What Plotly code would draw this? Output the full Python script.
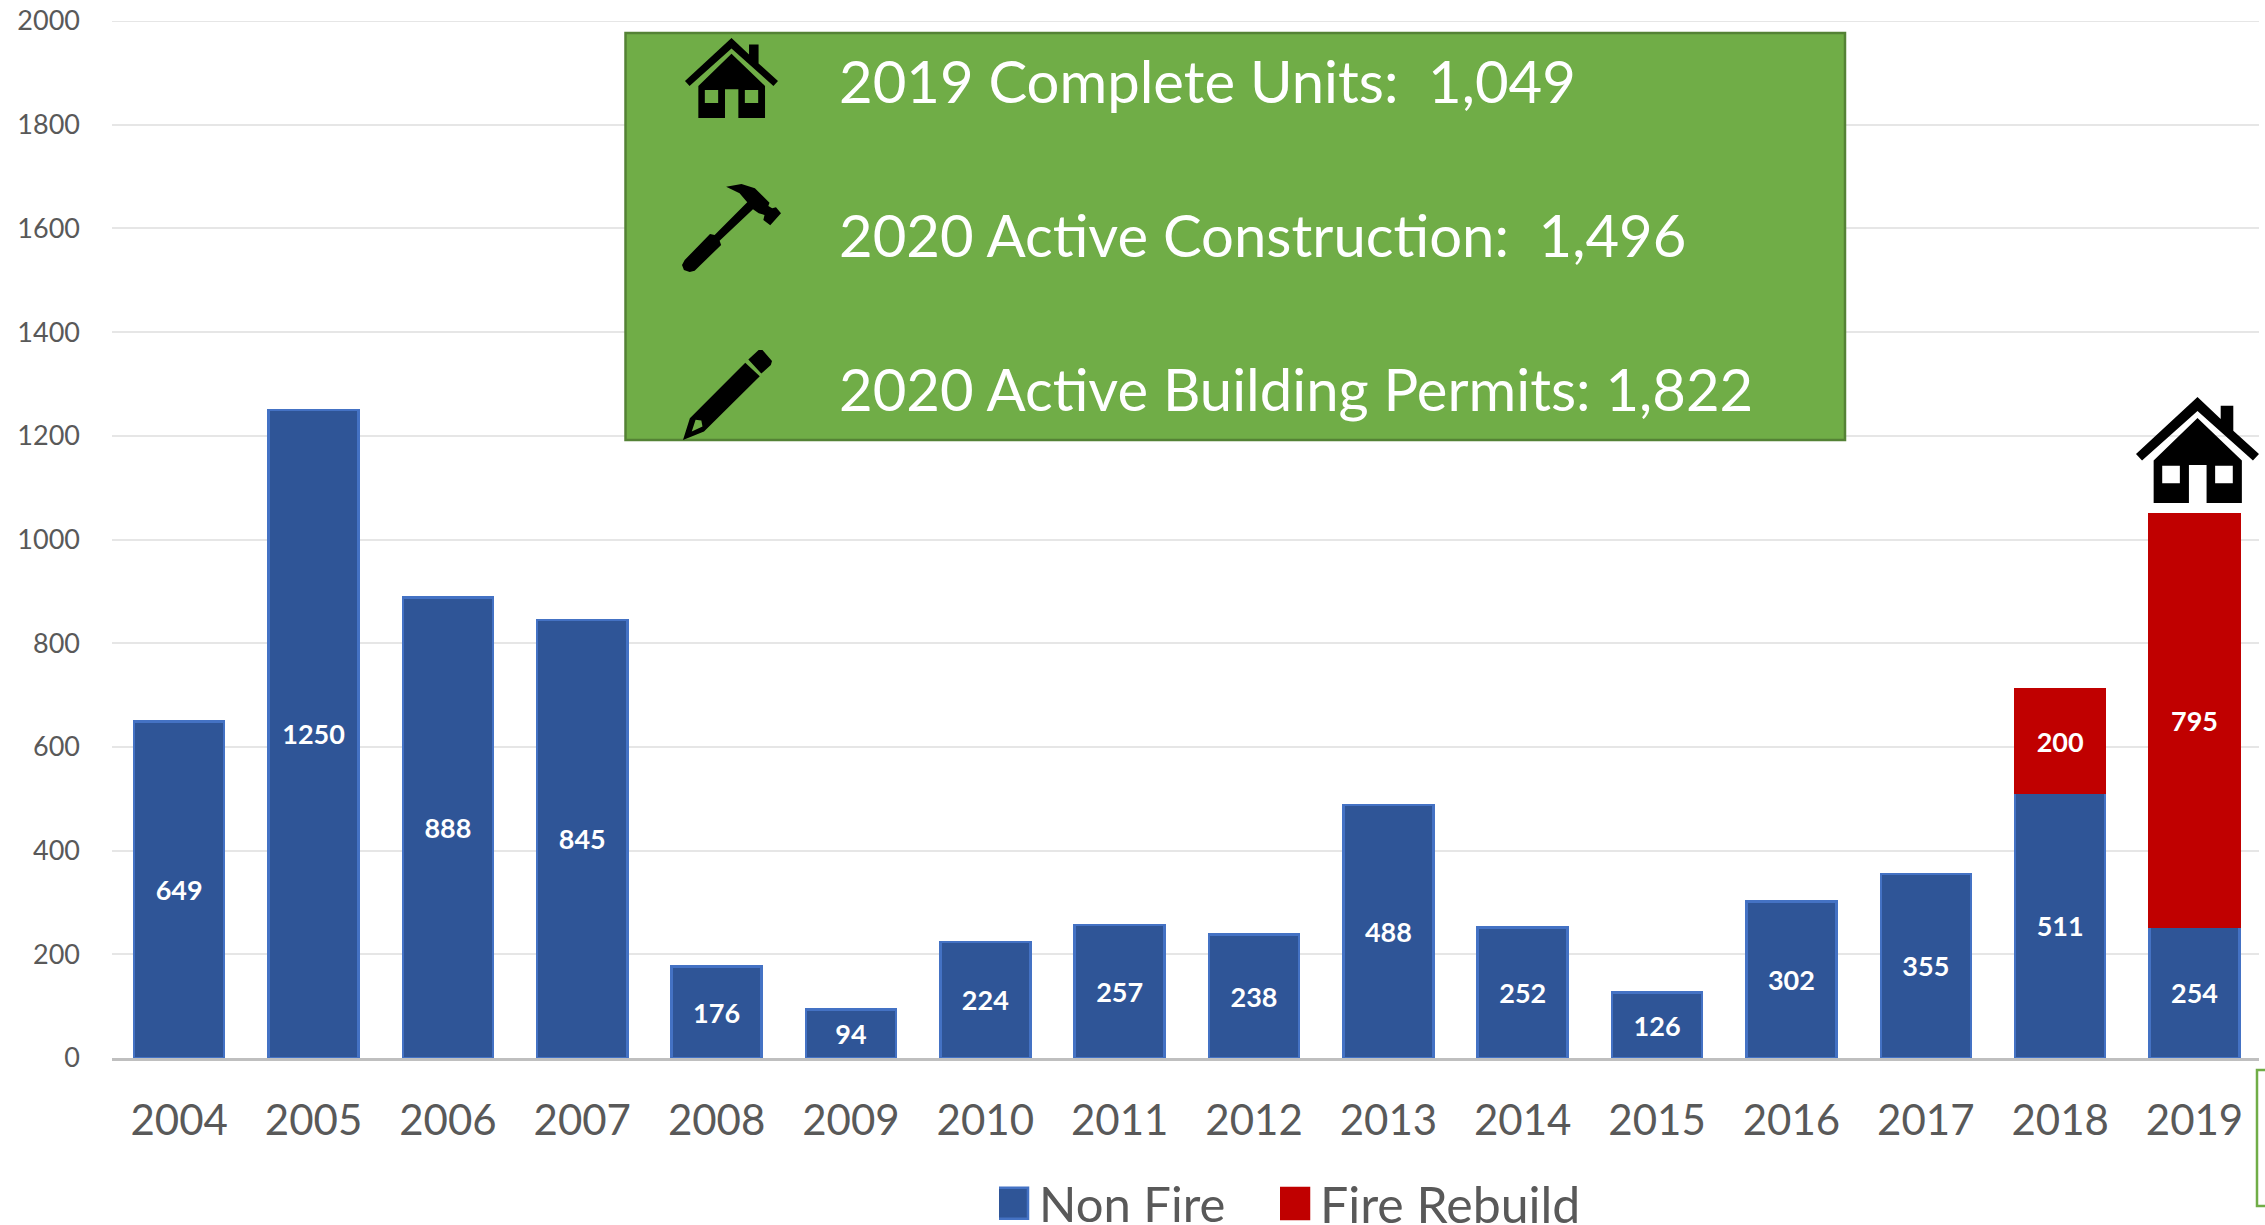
import plotly.graph_objects as go

years = ["2004","2005","2006","2007","2008","2009","2010","2011","2012","2013","2014","2015","2016","2017","2018","2019"]
non_fire = [649,1250,888,845,176,94,224,257,238,488,252,126,302,355,511,254]
fire_rebuild = [None]*14 + [200,795]
callouts = ["2019 Complete Units:  1,049", "2020 Active Construction:  1,496", "2020 Active Building Permits: 1,822"]
y_ticks = list(range(0,2001,200))

W,H = 2265,1225
L,R,T,B = 112,2259,21,1058
FONT = "Lato"
px = lambda x:(x-L)/(R-L)
py = lambda y:(B-y)/(B-T)

def path(polys, box, src):
    x0,y0,x1,y1 = box; sx0,sy0,sx1,sy1 = src
    out=""
    for poly in polys:
        pts=[(px(x0+(a-sx0)/(sx1-sx0)*(x1-x0)), py(y0+(b-sy0)/(sy1-sy0)*(y1-y0))) for a,b in poly]
        out+="M"+"L".join(f"{a:.5f},{b:.5f}" for a,b in pts)+"Z"
    return out

HOUSE = [[(122,0),(168,50),(168,20),(193,20),(193,77),(244,130),(232,145),(122,32),(12,145),(0,130)],
         [(35,145),(122,48),(210,145),(210,242),(140,242),(140,155),(105,155),(105,242),(35,242)],
         [(52,157),(52,197),(87,197),(87,157)],
         [(157,157),(157,197),(192,197),(192,157)]]
HOUSE_SRC=(0,0,244,242)
HAMMER = [[(330,560),(370,552),(405,565),(443,608),(440,618),(450,625),(460,622),(473,640),(445,676),(427,660),(430,645),(415,640),(400,628),(313,722),(317,735),(248,812),(235,816),(220,810),(215,795),(222,780),(288,702),(300,705),(385,607),(365,580)]]
HAMMER_SRC=(215,552,473,816)
PENCIL = [[(235,1255),(380,1090),(418,1130),(272,1295),(217,1320)],
          [(240,1295),(268,1280),(265,1262),(250,1260)],
          [(388,1080),(415,1052),(425,1052),(450,1085),(447,1097),(422,1122)]]
PENCIL_SRC=(217,1052,450,1320)

fig = go.Figure()
bar_text = dict(color="white", size=27, family=FONT, weight="bold")
fig.add_bar(name="Non Fire", x=years, y=non_fire, marker=dict(color="#2F5597", line=dict(color="#4472C4", width=2.5)),
            text=non_fire, textposition="inside", insidetextanchor="middle", textangle=0, insidetextfont=bar_text, cliponaxis=False)
fig.add_bar(name="Fire Rebuild", x=years, y=fire_rebuild, marker=dict(color="#C00000", line=dict(color="#C00000", width=2.5)),
            text=fire_rebuild, textposition="inside", insidetextanchor="middle", textangle=0, insidetextfont=bar_text, cliponaxis=False,
            legend="legend2")

def paper_shape(**k):
    return dict(xref="paper", yref="paper", **k)

shapes=[
    dict(type="line", xref="paper", yref="y", x0=0, x1=1, y0=y_ticks[-1], y1=y_ticks[-1], layer="below", line=dict(color="#E6E6E6", width=2)),
    paper_shape(type="rect", x0=px(625.5), x1=px(1845), y0=py(33), y1=py(440), fillcolor="#70AD47", line=dict(color="#548235", width=2.5)),
    paper_shape(type="path", path=path(HOUSE,(685,38,778,118),HOUSE_SRC), fillcolor="black", line=dict(width=0)),
    paper_shape(type="path", path=path(HAMMER,(682,184,781,272),HAMMER_SRC), fillcolor="black", line=dict(width=0)),
    paper_shape(type="path", path=path(PENCIL,(683,350,772,440),PENCIL_SRC), fillcolor="black", line=dict(width=0)),
    paper_shape(type="path", path=path(HOUSE,(2136,397,2259,503),HOUSE_SRC), fillcolor="black", line=dict(width=0)),
    paper_shape(type="rect", x0=px(2257), x1=px(2285), y0=py(1070), y1=py(1206), line=dict(color="#70AD47", width=2.5)),
]
annotations=[dict(xref="paper",yref="paper",x=px(836.5),y=py(yy),text=t,showarrow=False,xanchor="left",yanchor="middle",
                  font=dict(family=FONT,size=58,color="white")) for t,yy in zip(callouts,[81,234,388])]

def legend_at(x_px, size):
    return dict(orientation="h",xref="container",yref="container",x=x_px/W,xanchor="left",y=1-1203/H,yanchor="middle",
                font=dict(size=size,color="#595959"),bgcolor="rgba(0,0,0,0)",itemwidth=30)

fig.update_layout(
    width=W,height=H,autosize=False,barmode="stack",bargap=0.33,
    margin=dict(l=L,r=W-R,t=T,b=H-B,autoexpand=False),
    paper_bgcolor="white",plot_bgcolor="white",
    font=dict(family=FONT,color="#595959"),
    shapes=shapes,annotations=annotations,
    legend=legend_at(999,49),legend2=legend_at(1280,50),
    xaxis=dict(type="category",automargin=False,range=[-0.5,15.48],tickfont=dict(size=42),showgrid=False,showline=True,linecolor="#BFBFBF",linewidth=2.5,ticks="",ticklabelstandoff=24,fixedrange=True),
    yaxis=dict(range=[0,2000],automargin=False,tickvals=y_ticks,tickfont=dict(size=27),gridcolor="#E6E6E6",gridwidth=2,zeroline=False,showline=False,ticks="",ticklabelstandoff=31,fixedrange=True),
    showlegend=True,
)
post = """
document.body.style.margin='0';document.body.style.overflow='hidden';
var gd=document.getElementById('{plot_id}');
var grow=function(){document.querySelectorAll('.legendpoints path').forEach(function(p){p.setAttribute('d','M9,16H-22V-15H9Z');});};
grow();gd.on('plotly_afterplot',grow);setTimeout(grow,50);
"""
fig.write_html("out.html",config=dict(displayModeBar=False),post_script=post)
